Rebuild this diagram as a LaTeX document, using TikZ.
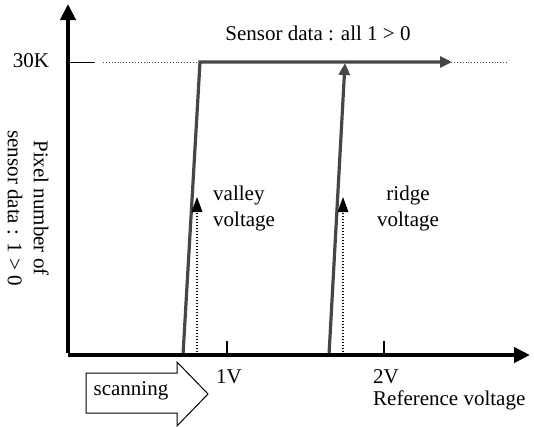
\documentclass[tikz,border=0pt]{standalone}
\usepackage{fontspec}
\setmainfont{Liberation Serif}
\usetikzlibrary{arrows.meta}
\tikzset{
  axisline/.style={line width=4.5pt, black, -{Triangle[length=16pt,width=15pt]}},
  curveline/.style={line width=3.2pt, gray!55!black, line join=miter},
  dotline/.style={line width=1.6pt, black, dash pattern=on 1.4pt off 1.6pt},
  thinline/.style={line width=1pt, black},
  lbl/.style={inner sep=0pt, font=\fontsize{21}{26}\selectfont},
}
\begin{document}
\begin{tikzpicture}[x=1pt,y=-1pt]
\useasboundingbox (0,0) rectangle (534,426);
% coordinates
\coordinate (O) at (68,355);
\coordinate (ytop) at (68,4);
\coordinate (xend) at (530,355);
\coordinate (k30) at (68,62);
\coordinate (k30t) at (95,62);
\coordinate (dotA) at (103,62);
\coordinate (dotB) at (507,62);
\coordinate (vb) at (183,355);
\coordinate (vt) at (200,62);
\coordinate (hend) at (452,62);
\coordinate (rb) at (329,355);
\coordinate (rt) at (345,63);
\coordinate (vdb) at (197,355);
\coordinate (vdt) at (197,197);
\coordinate (rdb) at (343,355);
\coordinate (rdt) at (343,197);
\coordinate (t1a) at (227,341);
\coordinate (t1b) at (227,355);
\coordinate (t2a) at (384,341);
\coordinate (t2b) at (384,355);

% 30K dotted level line
\draw[line width=0.9pt, gray!60!black, dotted] (dotA) -- (dotB);
% curves
\draw[curveline, -{Triangle[length=12pt,width=11pt]}] (vb) -- (vt) -- (hend);
\draw[curveline, -{Triangle[length=12pt,width=11pt]}] (rb) -- (rt);
% dotted voltage markers
\draw[dotline] (vdb) -- ([yshift=-12pt]vdt);
\draw[dotline] (rdb) -- ([yshift=-12pt]rdt);
\fill[black] (vdt) -- ++(-5.5,15) -- ++(11,0) -- cycle;
\fill[black] (rdt) -- ++(-5.5,15) -- ++(11,0) -- cycle;
% axes
\draw[axisline] (O) -- (xend);
\draw[axisline] ([yshift=2pt]O) -- (ytop);
% ticks
\draw[thinline] (k30) -- (k30t);
\draw[line width=2pt] (t1a) -- (t1b);
\draw[line width=2pt] (t2a) -- (t2b);

% labels
\node[lbl] (l30) at (31,61) {30K};
\node[lbl] (sd) at (318,33) {Sensor data : all 1 > 0};
\node[lbl, rotate=-90, align=center] (yl) at (28,208) {Pixel number of\\sensor data : 1 > 0};
\node[lbl, align=left, anchor=west] (vv) at (213,208) {valley\\voltage};
\node[lbl, align=center] (rv) at (408,208) {ridge\\voltage};
\node[lbl] (v1) at (229,377) {1V};
\node[lbl] (v2) at (386,377) {2V};
\node[lbl, anchor=west] (rvl) at (373,400) {Reference voltage};

% scanning arrow
\draw[line width=1pt] (86,373) -- (177,373) -- (177,362) -- (208,394) -- (177,426) -- (177,413) -- (86,413) -- cycle;
\node[lbl] (scan) at (131,391) {scanning};
\end{tikzpicture}
\end{document}
